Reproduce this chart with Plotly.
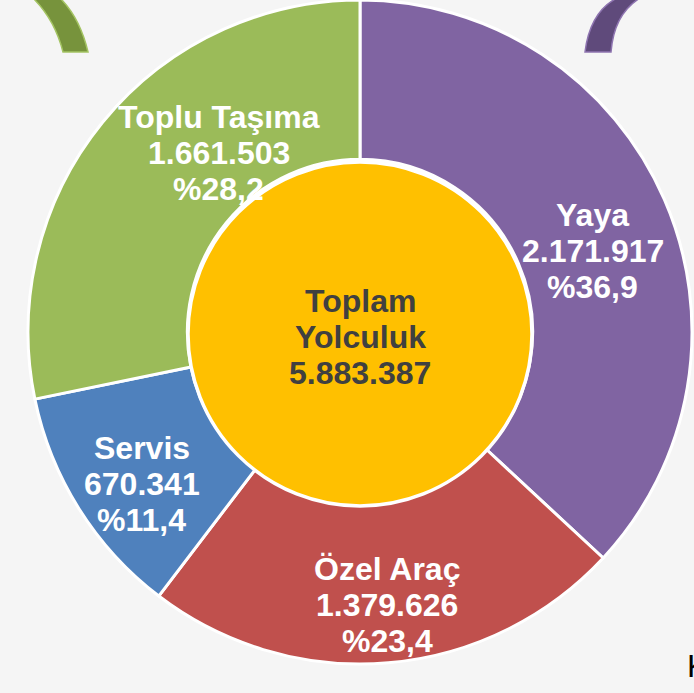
import math
import plotly.graph_objects as go

# ---------------- data ----------------
categories = ["Yaya", "Özel Araç", "Servis", "Toplu Taşıma"]
trip_counts = [2171917, 1379626, 670341, 1661503]
center_title = ["Toplam", "Yolculuk"]
total_trips = sum(trip_counts)

# ---------------- style ----------------
W, H = 694, 693
colors = ["#8064A2", "#C0504D", "#4F81BD", "#9BBB59"]
FONT = "Liberation Sans, Arial, sans-serif"
CX, CY, R = 360, 332, 332          # pie centre / radius in pixels
HOLE = 0.52
LABEL_R = 258                       # radius of label anchors (px)
LINE = 36                           # label line spacing (px)
FSIZE = 32
LABEL_NUDGE = {"Yaya": (-4, 22), "Özel Araç": (5, 16), "Servis": (0, 15), "Toplu Taşıma": (59, -16)}


def px(x, y):
    return x / W, 1 - y / H


def fmt_int(v):
    return f"{v:,}".replace(",", ".")


def fmt_pct(p):
    return "%" + f"{p:.1f}".replace(".", ",")


fig = go.Figure()
fig.add_trace(go.Pie(
    labels=categories, values=trip_counts, sort=False, direction="clockwise", rotation=0,
    hole=HOLE, textinfo="none", hoverinfo="label+value+percent",
    marker=dict(colors=colors, line=dict(color="white", width=3)),
    domain=dict(x=[(CX - R) / W, (CX + R) / W], y=[1 - (CY + R) / H, 1 - (CY - R) / H]),
    showlegend=False,
))

annotations = []
cum = 0
for name, v in zip(categories, trip_counts):
    share = v / total_trips
    mid = (cum + share / 2) * 360
    cum += share
    ax = CX + LABEL_R * math.sin(math.radians(mid)) + LABEL_NUDGE[name][0]
    ay = CY - LABEL_R * math.cos(math.radians(mid)) + LABEL_NUDGE[name][1]
    lines = [name, fmt_int(v), fmt_pct(share * 100)]
    for i, t in enumerate(lines):
        x, y = px(ax, ay + (i - 1) * LINE)
        annotations.append(dict(x=x, y=y, xref="paper", yref="paper", text=f"<b>{t}</b>",
                                showarrow=False, xanchor="center", yanchor="middle",
                                font=dict(family=FONT, size=FSIZE, color="white")))

# centre circle text
HOLE_CX, HOLE_CY, HOLE_R = 360, 334, 172
center_lines = center_title + [fmt_int(total_trips)]
for i, t in enumerate(center_lines):
    x, y = px(HOLE_CX, HOLE_CY + 3 + (i - 1) * LINE)
    annotations.append(dict(x=x, y=y, xref="paper", yref="paper", text=f"<b>{t}</b>",
                            showarrow=False, xanchor="center", yanchor="middle",
                            font=dict(family=FONT, size=FSIZE, color="#404040")))

# cut-off source text at bottom right (the reference shows only its first stroke)
kx, ky = px(685, 666)
annotations.append(dict(x=kx, y=ky, xref="paper", yref="paper", text="Kaynak",
                        showarrow=False, xanchor="left", yanchor="middle",
                        font=dict(family=FONT, size=32, color="black")))


def path(points_cmds):
    out = []
    for cmd, pts in points_cmds:
        coords = " ".join(f"{px(x, y)[0]:.5f},{px(x, y)[1]:.5f}" for x, y in pts)
        out.append(f"{cmd} {coords}")
    return " ".join(out) + " Z"


shapes = [
    # centre circle
    dict(type="circle", xref="paper", yref="paper",
         x0=px(HOLE_CX - HOLE_R, 0)[0], x1=px(HOLE_CX + HOLE_R, 0)[0],
         y0=px(0, HOLE_CY + HOLE_R)[1], y1=px(0, HOLE_CY - HOLE_R)[1],
         fillcolor="#FFC000", line=dict(color="white", width=3.5), layer="above"),
    # decorative green arc
    dict(type="path", xref="paper", yref="paper",
         path=path([("M", [(33, -2)]), ("Q", [(55, 20), (63, 52)]), ("L", [(88, 52)]),
                    ("Q", [(80, 18), (60, -2)])]),
         fillcolor="#77933C", line=dict(color="#A4C463", width=1.5), layer="below"),
    # decorative purple arc
    dict(type="path", xref="paper", yref="paper",
         path=path([("M", [(617, -2)]), ("Q", [(590, 12), (585, 52)]), ("L", [(611, 52)]),
                    ("Q", [(614, 14), (640, -2)])]),
         fillcolor="#5F4A7B", line=dict(color="#8E74B0", width=1.5), layer="below"),
]

fig.update_layout(
    width=W, height=H, margin=dict(l=0, r=0, t=0, b=0),
    paper_bgcolor="#F5F5F5", plot_bgcolor="#F5F5F5",
    annotations=annotations, shapes=shapes,
)
fig.write_html("out.html", config={"displayModeBar": False},
               post_script="document.body.style.margin='0px';document.body.style.overflow='hidden';")
